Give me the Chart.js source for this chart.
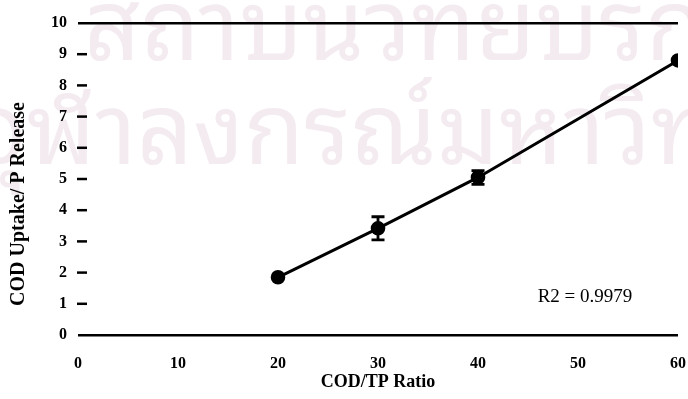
<!DOCTYPE html>
<html>
<head>
<meta charset="utf-8">
<title>COD Uptake / P Release vs COD/TP Ratio</title>
<script src="https://cdn.jsdelivr.net/npm/chart.js@4.4.1/dist/chart.umd.min.js"></script>
<style>
  html, body { margin: 0; padding: 0; background: #ffffff; }
  #wrap { width: 688px; height: 399px; position: relative; }
  canvas { display: block; }
</style>
</head>
<body>
<div id="wrap"><canvas id="chart" width="688" height="399"></canvas></div>
<script>
// COD/TP ratio of each test
const ratios = [20, 30, 40, 60];
// COD uptake per unit of P released (mean)
const uptakeRelease = [1.85, 3.42, 5.05, 8.8];
// half-length of the error bar at each ratio
const errorHalf = [0, 0.37, 0.22, 0];
// axis ranges and tick steps
const xRange = [0, 60];
const xStep = 10;
const yRange = [0, 10];
const yStep = 1;
// axis titles
const xTitle = 'COD/TP Ratio';
const yTitle = 'COD Uptake/ P Release';
// fit statistic shown inside the plot, placed in data units
const fitLabel = 'R2 = 0.9979';
const fitLabelAt = { x: 50.7, y: 1.22 };
// watermark lines behind the plot
const watermarkLines = ['สถาบันวิทยบริการ', 'จุฬาลงกรณ์มหาวิทยาลัย'];

const SERIF = '"Liberation Serif", "Times New Roman", "DejaVu Serif", serif';
const THAI = '"Noto Sans Thai Looped", "Noto Serif Thai", "Noto Sans Thai", "Noto Sans", sans-serif';

// faint watermark painted before the chart
const watermark = {
  id: 'watermark',
  beforeDraw(chart) {
    const ctx = chart.ctx;
    ctx.save();
    ctx.fillStyle = '#f4ebf1';
    ctx.textBaseline = 'alphabetic';
    ctx.font = '98px ' + THAI;
    ctx.fillText(watermarkLines[0], 84, 60);
    ctx.fillText(watermarkLines[1], -26, 164);
    ctx.restore();
  }
};

// short tick dashes on the value axis, error bars, the y title and the R2 note
const extras = {
  id: 'extras',
  afterDatasetsDraw(chart) {
    const ctx = chart.ctx;
    const xs = chart.scales.x, ys = chart.scales.y;
    const left = chart.chartArea.left;
    ctx.save();
    ctx.strokeStyle = '#000';
    ctx.lineWidth = 2.5;
    ys.ticks.forEach(t => {
      if (t.value === yRange[0] || t.value === yRange[1]) return;
      const py = ys.getPixelForValue(t.value);
      ctx.beginPath();
      ctx.moveTo(left - 1, py);
      ctx.lineTo(left + 9, py);
      ctx.stroke();
    });
    // error bars with caps
    ctx.lineWidth = 2.8;
    ratios.forEach((r, i) => {
      const e = errorHalf[i];
      if (!e) return;
      const px = xs.getPixelForValue(r);
      const top = ys.getPixelForValue(uptakeRelease[i] + e);
      const bot = ys.getPixelForValue(uptakeRelease[i] - e);
      ctx.beginPath();
      ctx.moveTo(px, top); ctx.lineTo(px, bot);
      ctx.moveTo(px - 6.5, top); ctx.lineTo(px + 6.5, top);
      ctx.moveTo(px - 6.5, bot); ctx.lineTo(px + 6.5, bot);
      ctx.stroke();
    });
    ctx.fillStyle = '#000';
    ctx.font = '19px ' + SERIF;
    ctx.textAlign = 'center';
    ctx.textBaseline = 'middle';
    ctx.fillText(fitLabel, xs.getPixelForValue(fitLabelAt.x), ys.getPixelForValue(fitLabelAt.y));
    // rotated value-axis title
    ctx.font = 'bold 20px ' + SERIF;
    ctx.translate(19, ys.getPixelForValue(4.2));
    ctx.rotate(-Math.PI / 2);
    ctx.fillText(yTitle, 0, 0);
    ctx.restore();
  }
};

new Chart(document.getElementById('chart'), {
  type: 'scatter',
  data: {
    datasets: [{
      data: ratios.map((r, i) => ({ x: r, y: uptakeRelease[i] })),
      showLine: true,
      borderColor: '#000',
      borderWidth: 3,
      backgroundColor: '#000',
      pointBackgroundColor: '#000',
      pointBorderColor: '#000',
      pointRadius: 5.8,
      pointHoverRadius: 5.8,
      tension: 0
    }]
  },
  options: {
    responsive: false,
    devicePixelRatio: 1,
    animation: false,
    events: [],
    layout: { padding: { top: 23, right: 10, left: 0, bottom: 0 } },
    plugins: { legend: { display: false }, tooltip: { enabled: false } },
    scales: {
      x: {
        type: 'linear',
        min: xRange[0], max: xRange[1],
        ticks: { stepSize: xStep, padding: 19, color: '#000', font: { family: SERIF, size: 16, weight: 'bold' } },
        grid: { display: false, drawTicks: false },
        border: { display: false },
        title: { display: true, text: xTitle, color: '#000', padding: { top: 0, bottom: 6 }, font: { family: SERIF, size: 18, weight: 'bold' } },
        afterFit(scale) { scale.height = 64; scale.paddingLeft = 0; scale.paddingRight = 0; }
      },
      y: {
        type: 'linear',
        min: yRange[0], max: yRange[1],
        ticks: { stepSize: yStep, padding: 11, color: '#000', font: { family: SERIF, size: 16, weight: 'bold' } },
        grid: {
          drawTicks: false,
          lineWidth: 2.5,
          color: ctx => (ctx.tick && (ctx.tick.value === yRange[0] || ctx.tick.value === yRange[1])) ? '#000' : 'rgba(0,0,0,0)'
        },
        border: { display: false },
        title: { display: false },
        afterFit(scale) { scale.width = 78; scale.paddingTop = 0; scale.paddingBottom = 0; }
      }
    }
  },
  plugins: [watermark, extras]
});
</script>
</body>
</html>
